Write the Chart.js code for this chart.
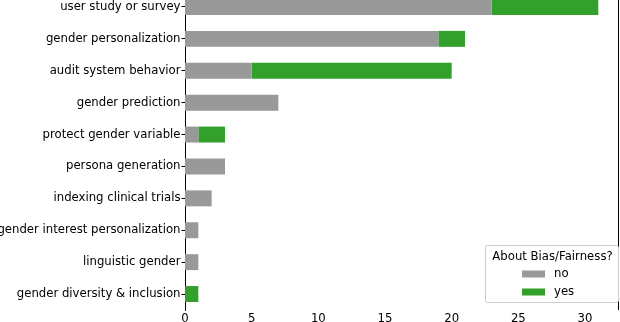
<!DOCTYPE html>
<html>
<head>
<meta charset="utf-8">
<script src="https://cdn.jsdelivr.net/npm/chart.js@4/dist/chart.umd.min.js"></script>
<style>
  html, body { margin: 0; padding: 0; background: #fff; overflow: hidden; }
  #wrap { position: absolute; left: 0; top: -17px; width: 620px; height: 347px; }
</style>
</head>
<body>
<div id="wrap"><canvas id="chart"></canvas></div>
<script>
const categories = [
    "user study or survey",
    "gender personalization",
    "audit system behavior",
    "gender prediction",
    "protect gender variable",
    "persona generation",
    "indexing clinical trials",
    "gender interest personalization",
    "linguistic gender",
    "gender diversity & inclusion",
];
const noCounts = [23, 19, 5, 7, 1, 3, 2, 1, 1, 0];
const yesCounts = [8, 2, 15, 0, 2, 0, 0, 0, 0, 1];
const xTicks = [0, 5, 10, 15, 20, 25, 30];
const legendTitle = "About Bias/Fairness?";

const FONT = "'DejaVu Sans', sans-serif";
const FSIZE = 11.7;

// legend box in the lower right corner + right spine
const legendBox = {
    id: "legendBox",
    afterDraw(chart) {
        const ctx = chart.ctx;
        const a = chart.chartArea;
        ctx.save();
        // right spine
        ctx.strokeStyle = "#000";
        ctx.lineWidth = 1;
        ctx.beginPath();
        ctx.moveTo(a.right - 0.5, a.top);
        ctx.lineTo(a.right - 0.5, a.bottom);
        ctx.stroke();

        const w = 133, h = 57;
        const x = a.right - 1 - w;
        const y = a.bottom - 8 - h;
        ctx.beginPath();
        ctx.roundRect(x + 0.5, y + 0.5, w, h, 2);
        ctx.fillStyle = "rgba(255,255,255,0.8)";
        ctx.fill();
        ctx.strokeStyle = "#cccccc";
        ctx.stroke();

        ctx.font = FSIZE + "px " + FONT;
        ctx.fillStyle = "#000";
        ctx.textAlign = "center";
        ctx.textBaseline = "middle";
        ctx.fillText(legendTitle, x + w / 2 + 1, y + 12);

        ctx.textAlign = "left";
        chart.data.datasets.forEach((ds, i) => {
            const cy = y + 29 + i * 18;
            ctx.fillStyle = ds.backgroundColor;
            ctx.fillRect(x + 37, cy - 3.5, 23, 7);
            ctx.fillStyle = "#000";
            ctx.fillText(ds.label, x + 69, cy);
        });
        ctx.restore();
    },
};

new Chart(document.getElementById("chart"), {
    type: "bar",
    data: {
        labels: categories,
        datasets: [
            {
                label: "no",
                data: noCounts,
                backgroundColor: "#999999",
                barPercentage: 0.5,
                categoryPercentage: 1.0,
            },
            {
                label: "yes",
                data: yesCounts,
                backgroundColor: "#33a02c",
                barPercentage: 0.5,
                categoryPercentage: 1.0,
            },
        ],
    },
    options: {
        indexAxis: "y",
        responsive: true,
        maintainAspectRatio: false,
        animation: false,
        layout: { padding: { top: 0, right: 1, bottom: 0, left: 0 } },
        plugins: {
            legend: { display: false },
            tooltip: { enabled: false },
        },
        scales: {
            x: {
                stacked: true,
                min: 0,
                max: 32.55,
                afterBuildTicks: (scale) => {
                    scale.ticks = xTicks.map((v) => ({ value: v }));
                },
                afterFit: (scale) => {
                    scale.height = 20;
                },
                grid: { display: false, drawTicks: false },
                border: { display: false },
                ticks: {
                    padding: 2,
                    color: "#000",
                    font: { family: FONT, size: FSIZE },
                },
            },
            y: {
                stacked: true,
                afterFit: (scale) => {
                    scale.width = 185;
                },
                grid: {
                    offset: false,
                    drawOnChartArea: false,
                    drawTicks: true,
                    tickLength: 3.5,
                    color: "#000",
                },
                border: { display: true, color: "#000", width: 1 },
                ticks: {
                    padding: 1,
                    color: "#000",
                    autoSkip: false,
                    font: { family: FONT, size: FSIZE },
                },
            },
        },
    },
    plugins: [legendBox],
});
</script>
</body>
</html>
